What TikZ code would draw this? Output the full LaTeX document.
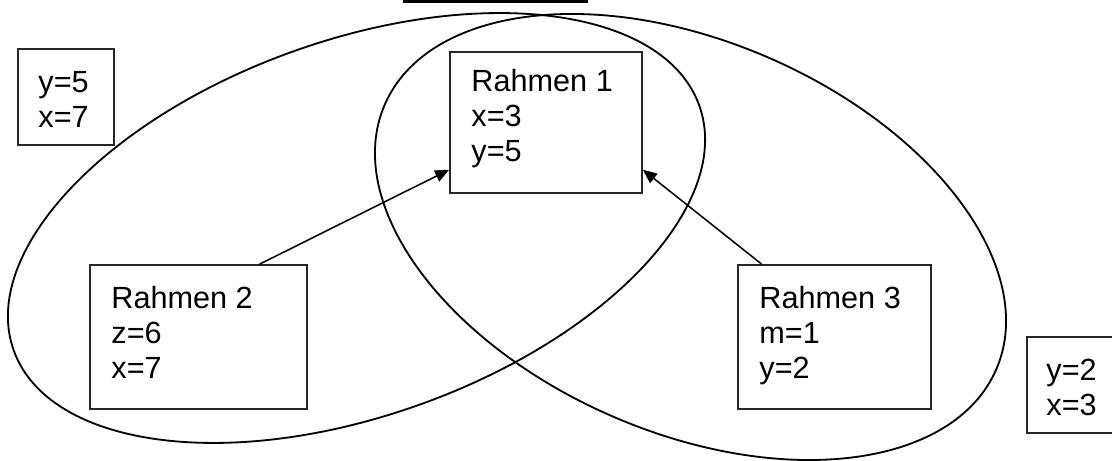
\documentclass[tikz,border=0pt]{standalone}
\usepackage{fontspec}
\setmainfont{Liberation Sans}
\usetikzlibrary{arrows.meta,positioning}

\begin{document}
\begin{tikzpicture}[scale=1,
    frame/.style={draw=black!85, line width=1.2pt, inner sep=0pt},
    txt/.style={inner sep=0pt, align=left, font=\fontsize{21.8}{24.9}\selectfont},
    ring/.style={line width=1.3pt},
    pfeil/.style={line width=1.1pt, -{Triangle[length=10pt,width=8.5pt]}}]
      \clip (0,0) rectangle (27.8,11.525);

      \draw[line width=2pt] (10.075,11.48) -- (14.7,11.48);

      \draw[ring, rotate around={19.65:(8.9125,5.825)}] (8.9125,5.825) ellipse [x radius=9.1, y radius=4.69];
      \draw[ring, rotate around={-23.4:(17.2625,5.6)}] (17.2625,5.6) ellipse [x radius=8.33, y radius=4.89];

      \node (ga) at (1.65,9.1) [frame, minimum width=2.4cm, minimum height=2.4cm] {};
      \node (gat) [txt, below right=0.575 and 0.525 of ga.north west] {y=5\\x=7};
      \node (gb) at (26.875,1.9) [frame, minimum width=2.4cm, minimum height=2.4cm] {};
      \node (gbt) [txt, below right=0.575 and 0.5 of gb.north west] {y=2\\x=3};

      \node (r1) at (13.65,8.4625) [frame, minimum width=4.8cm, minimum height=3.525cm] {};
      \node (r1t) [txt, below right=0.45 and 0.55 of r1.north west] {Rahmen 1\\x=3\\y=5};
      \node (r2) at (4.9625,3.1) [frame, minimum width=5.425cm, minimum height=3.6cm] {};
      \node (r2t) [txt, below right=0.55 and 0.55 of r2.north west] {Rahmen 2\\z=6\\x=7};
      \node (r3) at (20.8625,3.1) [frame, minimum width=4.825cm, minimum height=3.6cm] {};
      \node (r3t) [txt, below right=0.55 and 0.55 of r3.north west] {Rahmen 3\\m=1\\y=2};

      \draw[pfeil] (r2.50) to (r1.206);
      \draw[pfeil] (r3.135) to (r1.334);

    \end{tikzpicture}
\end{document}
